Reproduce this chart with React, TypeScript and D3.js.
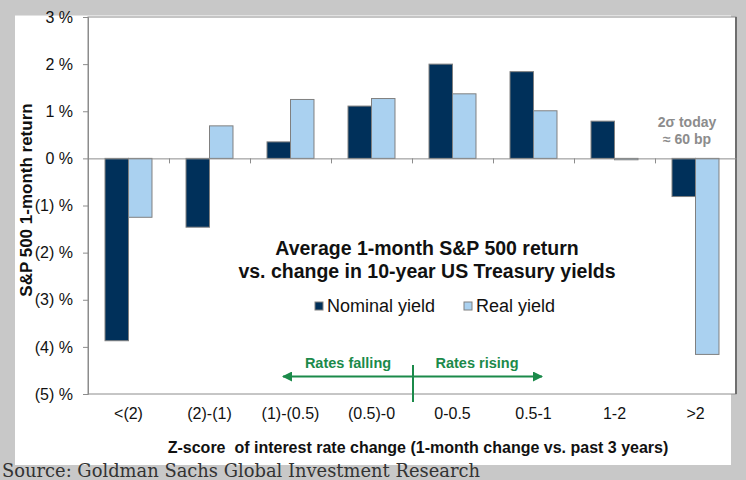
import { useEffect, useMemo, useRef } from "react";
import * as d3 from "d3";

const WIDTH = 746;
const HEIGHT = 480;
const PLOT = { left: 88, top: 17, right: 736, bottom: 394 };

const categories = ["<(2)", "(2)-(1)", "(1)-(0.5)", "(0.5)-0", "0-0.5", "0.5-1", "1-2", ">2"];
const nominalYield = [-3.87, -1.46, 0.35, 1.11, 2.0, 1.84, 0.79, -0.81];
const realYield = [-1.25, 0.69, 1.25, 1.27, 1.37, 1.01, -0.03, -4.16];
const yTicks = [3, 2, 1, 0, -1, -2, -3, -4, -5];
const seriesNames = ["Nominal yield", "Real yield"];
const seriesColors = ["#00305a", "#aad1f0"];

const FONT = "'Liberation Sans', Arial, sans-serif";

function fmt(v: number) {
    return v < 0 ? `(${-v}) %` : `${v} %`;
}

export default function App() {
    const axesRef = useRef<SVGGElement>(null);

    const yScale = useMemo(
        () => d3.scaleLinear().domain([-5, 3]).range([PLOT.bottom, PLOT.top]),
        []
    );
    const xScale = useMemo(
        () =>
            d3
                .scaleBand<string>()
                .domain(categories)
                .range([PLOT.left, PLOT.right])
                .paddingInner(0.42)
                .paddingOuter(0.21),
        []
    );
    const xBounds = useMemo(
        () => d3.scaleLinear().domain([0, categories.length]).range([PLOT.left, PLOT.right]),
        []
    );
    const sub = useMemo(
        () => d3.scaleBand<number>().domain([0, 1]).range([0, xScale.bandwidth()]),
        [xScale]
    );

    // axes through d3
    useEffect(() => {
        const g = d3.select(axesRef.current);
        g.selectAll("*").remove();
        const yAxis = d3
            .axisLeft(yScale)
            .tickValues(yTicks)
            .tickSize(5)
            .tickFormat((d) => fmt(d as number));
        const ya = g.append("g").attr("transform", `translate(${PLOT.left},0)`).call(yAxis);
        ya.select(".domain").attr("stroke", "#8c8c8c");
        ya.selectAll(".tick line").attr("stroke", "#8c8c8c");
        ya.selectAll(".tick text")
            .attr("x", -15)
            .attr("fill", "#111")
            .style("font-family", FONT)
            .style("font-size", "16px");

        // zero line with category boundary ticks
        const xAxis = d3
            .axisBottom(xBounds)
            .tickValues(d3.range(1, categories.length))
            .tickSize(5)
            .tickSizeOuter(0)
            .tickFormat(() => "");
        const xa = g.append("g").attr("transform", `translate(0,${yScale(0)})`).call(xAxis);
        xa.select(".domain").attr("stroke", "#8c8c8c");
        xa.selectAll(".tick line").attr("stroke", "#8c8c8c");
    }, [yScale, xBounds]);

    const series = [nominalYield, realYield];
    const catCenter = (c: string) => (xScale(c) ?? 0) + xScale.bandwidth() / 2;

    return (
        <svg
            width={WIDTH}
            height={HEIGHT}
            style={{ position: "absolute", left: 0, top: 0, display: "block" }}
        >
            <rect x={0} y={0} width={WIDTH} height={HEIGHT} fill="#c8c8c8" />
            <rect x={15} y={15} width={716} height={450} fill="#ffffff" />
            <line x1={15} x2={731} y1={15.5} y2={15.5} stroke="#e2e2e2" />
            <rect
                x={PLOT.left}
                y={PLOT.top}
                width={PLOT.right - PLOT.left}
                height={PLOT.bottom - PLOT.top}
                fill="#ffffff"
                stroke="#8c8c8c"
            />
            <line x1={PLOT.right} x2={PLOT.right} y1={PLOT.top} y2={PLOT.bottom} stroke="#6e6e6e" strokeWidth={2} />

            {series.map((vals, si) =>
                vals.map((v, i) => (
                    <rect
                        key={`${si}-${i}`}
                        x={(xScale(categories[i]) ?? 0) + (sub(si) ?? 0)}
                        y={yScale(Math.max(0, v))}
                        width={sub.bandwidth()}
                        height={Math.abs(yScale(v) - yScale(0))}
                        fill={seriesColors[si]}
                        stroke="#808080"
                        strokeWidth={1}
                    />
                ))
            )}

            <g ref={axesRef} />

            {categories.map((c) => (
                <text
                    key={c}
                    x={catCenter(c)}
                    y={419}
                    textAnchor="middle"
                    fontFamily={FONT}
                    fontSize={16}
                    fill="#111"
                >
                    {c}
                </text>
            ))}

            <text
                x={418}
                y={453}
                textAnchor="middle"
                fontFamily={FONT}
                fontSize={16}
                fontWeight="bold"
                fill="#111"
                style={{ whiteSpace: "pre" }}
            >
                {"Z-score  of interest rate change (1-month change vs. past 3 years)"}
            </text>

            <text
                transform="translate(32,200) rotate(-90)"
                textAnchor="middle"
                fontFamily={FONT}
                fontSize={17}
                fontWeight="bold"
                fill="#111"
            >
                S&amp;P 500 1-month return
            </text>

            <text textAnchor="middle" fontFamily={FONT} fontSize={19.5} fontWeight="bold" fill="#111">
                <tspan x={427} y={255}>Average 1-month S&amp;P 500 return</tspan>
                <tspan x={427} y={278}>vs. change in 10-year US Treasury yields</tspan>
            </text>

            {seriesNames.map((n, i) => {
                const lx = i === 0 ? 315 : 464;
                return (
                    <g key={n}>
                        <rect x={lx} y={302} width={8} height={8} fill={seriesColors[i]} stroke="#808080" />
                        <text x={lx + 12} y={312} fontFamily={FONT} fontSize={18} fill="#111">
                            {n}
                        </text>
                    </g>
                );
            })}

            <text textAnchor="middle" fontFamily={FONT} fontSize={14} fontWeight="bold" fill="#8c8c8c">
                <tspan x={687} y={127}>2σ today</tspan>
                <tspan x={687} y={144}>≈ 60 bp</tspan>
            </text>

            <defs>
                <marker id="arrow" viewBox="0 0 10 10" refX={9} refY={5} markerWidth={5} markerHeight={5} orient="auto-start-reverse">
                    <path d="M0,0 L10,5 L0,10 z" fill="#1b8a4a" />
                </marker>
            </defs>
            <line x1={413} x2={283} y1={376.5} y2={376.5} stroke="#1b8a4a" strokeWidth={2} markerEnd="url(#arrow)" />
            <line x1={413} x2={542} y1={376.5} y2={376.5} stroke="#1b8a4a" strokeWidth={2} markerEnd="url(#arrow)" />
            <line x1={413} x2={413} y1={365} y2={402} stroke="#1b8a4a" strokeWidth={2} />
            <text x={348} y={368} textAnchor="middle" fontFamily={FONT} fontSize={14.5} fontWeight="bold" fill="#1b8a4a">
                Rates falling
            </text>
            <text x={477} y={368} textAnchor="middle" fontFamily={FONT} fontSize={14.5} fontWeight="bold" fill="#1b8a4a">
                Rates rising
            </text>

            <text x={2} y={477} fontFamily="'DejaVu Serif', serif" fontSize={18} fill="#333" textLength={478} lengthAdjust="spacingAndGlyphs">
                Source: Goldman Sachs Global Investment Research
            </text>
        </svg>
    );
}
